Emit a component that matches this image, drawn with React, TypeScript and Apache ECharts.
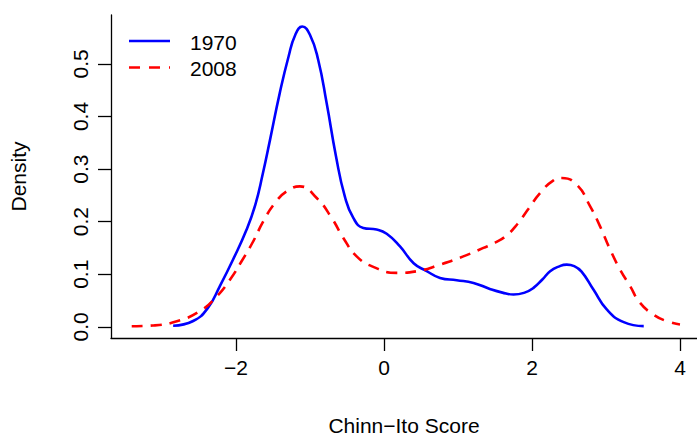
import React, { useEffect, useRef } from "react";
import * as echarts from "echarts";

const x1970 = [-2.85, -2.58, -2.38, -2.22, -2.04, -1.86, -1.74, -1.64, -1.54, -1.41, -1.29, -1.2, -1.105, -1.0, -0.89, -0.775, -0.65, -0.53, -0.415, -0.28, -0.1, 0.036, 0.216, 0.4, 0.577, 0.757, 0.983, 1.21, 1.43, 1.6, 1.75, 1.9, 2.02, 2.14, 2.245, 2.36, 2.47, 2.57, 2.67, 2.83, 3.01, 3.24, 3.51];
const y1970 = [0.002, 0.011, 0.036, 0.077, 0.128, 0.184, 0.232, 0.29, 0.356, 0.444, 0.514, 0.555, 0.571, 0.555, 0.508, 0.425, 0.325, 0.248, 0.207, 0.188, 0.185, 0.177, 0.153, 0.121, 0.106, 0.093, 0.0886, 0.0835, 0.072, 0.065, 0.0613, 0.065, 0.074, 0.09, 0.1056, 0.1145, 0.1183, 0.1155, 0.105, 0.0708, 0.033, 0.0088, 0.0012];

const x2008 = [-3.41, -3.12, -2.8, -2.49, -2.26, -2.08, -1.925, -1.767, -1.632, -1.474, -1.316, -1.136, -0.91, -0.707, -0.55, -0.37, -0.145, 0.172, 0.442, 0.757, 1.072, 1.343, 1.5, 1.65, 1.8, 1.95, 2.11, 2.29, 2.403, 2.606, 2.786, 2.92, 3.056, 3.19, 3.327, 3.46, 3.64, 3.82, 4.0];
const y2008 = [0.001, 0.0025, 0.0106, 0.0297, 0.058, 0.09, 0.1247, 0.1627, 0.2006, 0.2355, 0.2576, 0.267, 0.245, 0.207, 0.169, 0.134, 0.114, 0.1026, 0.1056, 0.1183, 0.134, 0.15, 0.16, 0.173, 0.195, 0.224, 0.2545, 0.2785, 0.283, 0.27, 0.229, 0.191, 0.147, 0.109, 0.077, 0.0456, 0.0234, 0.0107, 0.0044];

const xTicks = [-2, 0, 2, 4];
const yTicks = [0, 0.1, 0.2, 0.3, 0.4, 0.5];
const seriesNames = ["1970", "2008"];

const FONT = "Liberation Sans, Arial, Helvetica, sans-serif";
const FS = 21;

export default function App() {
  const ref = useRef<HTMLDivElement>(null);
  useEffect(() => {
    document.body.style.margin = "0";
    const chart = echarts.init(ref.current!, null, { renderer: "svg" });
    const pairs = (xs: number[], ys: number[]) => xs.map((x, i) => [x, ys[i]]);
    chart.setOption({
      animation: false,
      backgroundColor: "#ffffff",
      textStyle: { fontFamily: FONT },
      grid: { left: 111, right: 0, top: 15, bottom: 102.5 },
      xAxis: {
        type: "value",
        min: -3.69,
        max: 4.23,
        name: "Chinn\u2212Ito Score",
        nameLocation: "middle",
        nameGap: 77,
        nameTextStyle: { fontSize: FS, color: "#000", fontFamily: FONT },
        axisLine: { onZero: false, lineStyle: { color: "#000", width: 1.3 } },
        axisTick: { customValues: xTicks, length: 13, lineStyle: { color: "#000", width: 1.3 } },
        axisLabel: {
          customValues: xTicks,
          formatter: (v: number) => (v < 0 ? "\u2212" + Math.abs(v) : String(v)),
          fontSize: FS,
          color: "#000",
          margin: 19,
          fontFamily: FONT,
        },
        splitLine: { show: false },
      },
      yAxis: {
        type: "value",
        min: -0.0213,
        max: 0.593,
        name: "Density",
        nameLocation: "middle",
        nameRotate: 90,
        nameGap: 82,
        nameTextStyle: { fontSize: FS, color: "#000", fontFamily: FONT },
        axisLine: { show: true, onZero: false, lineStyle: { color: "#000", width: 1.3 } },
        axisTick: { show: true, customValues: yTicks, length: 13, lineStyle: { color: "#000", width: 1.3 } },
        axisLabel: {
          customValues: yTicks,
          formatter: (v: number) => v.toFixed(1),
          rotate: 90,
          fontSize: FS,
          color: "#000",
          margin: 20,
          fontFamily: FONT,
        },
        splitLine: { show: false },
      },
      series: [
        {
          name: seriesNames[0],
          type: "line",
          data: pairs(x1970, y1970),
          smooth: 0.5,
          showSymbol: false,
          lineStyle: { color: "#0000ff", width: 2.6 },
        },
        {
          name: seriesNames[1],
          type: "line",
          data: pairs(x2008, y2008),
          smooth: 0.5,
          showSymbol: false,
          lineStyle: { color: "#ff0000", width: 2.6, type: [11, 8] },
        },
      ],
      graphic: [
        { type: "line", shape: { x1: 129, y1: 41, x2: 170, y2: 41 }, style: { stroke: "#0000ff", lineWidth: 2.6 } },
        { type: "line", shape: { x1: 129, y1: 67.5, x2: 170, y2: 67.5 }, style: { stroke: "#ff0000", lineWidth: 2.6, lineDash: [11, 9] } },
        { type: "text", x: 190, y: 42, style: { text: seriesNames[0], fontSize: FS, fill: "#000", fontFamily: FONT, verticalAlign: "middle" } },
        { type: "text", x: 190, y: 68, style: { text: seriesNames[1], fontSize: FS, fill: "#000", fontFamily: FONT, verticalAlign: "middle" } },
      ],
    });
    return () => chart.dispose();
  }, []);
  return <div ref={ref} style={{ width: 697, height: 441 }} />;
}
